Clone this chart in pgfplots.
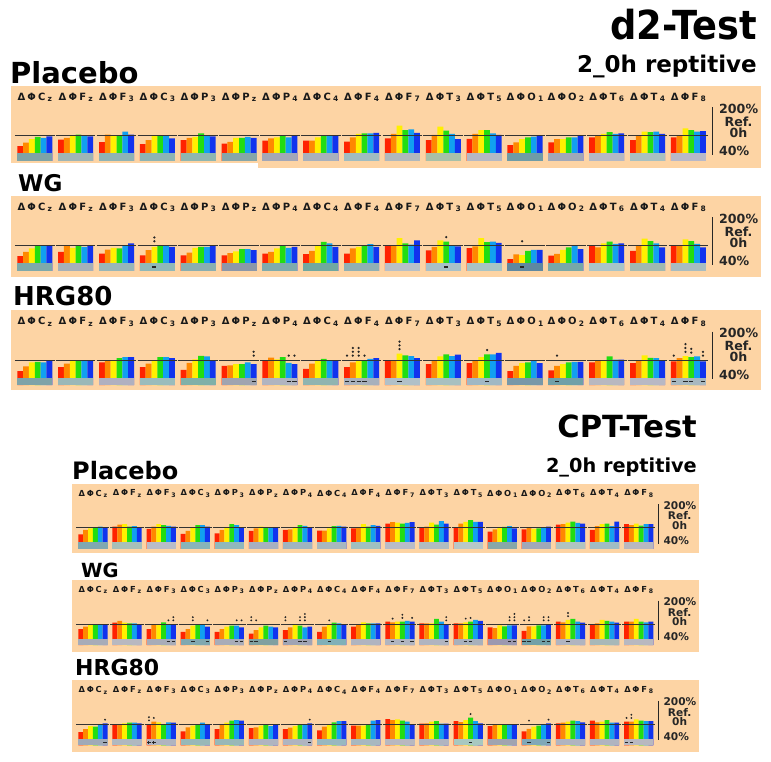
\documentclass[border=0pt]{standalone}
\usepackage{pgfplots}
\pgfplotsset{compat=1.18}
\usepackage{pgfplotstable}
\usepackage{graphicx}
\usepackage{fontspec}
\setmainfont{DejaVu Sans}

\definecolor{bgor}{HTML}{FDD4A4}
\definecolor{cR}{HTML}{FF2200}
\definecolor{cO}{HTML}{FF8800}
\definecolor{cY}{HTML}{FFF000}
\definecolor{cG}{HTML}{22DD11}
\definecolor{cC}{HTML}{11A0F0}
\definecolor{cB}{HTML}{1133EE}

\pgfplotsset{
  panel/.style={scale only axis, anchor=south west, xmin=0, xmax=118,
    ymin=14, ymax=200, axis line style={draw=none}, ticks=none,
    clip mode=individual},
  bars/.style={ybar, bar width=1, bar shift=0pt, draw=none, fill=#1},
}
\tikzset{
  elabA/.style={font=\bfseries\fontsize{10}{10}\selectfont, inner sep=0, text=black!90},
  elabB/.style={font=\bfseries\fontsize{8.3}{8.3}\selectfont, inner sep=0, text=black!90},
  rl/.style={font=\bfseries\fontsize{#1}{#1}\selectfont, inner sep=0, text=black!85},
  ttl/.style={font=\bfseries\fontsize{#1}{#1}\selectfont, inner sep=0},
}

% values in % of the 0h reference, one row per electrode, 6 repetitions
\pgfplotstableread{
e r o y g c b
Cz 64 76 88 96 93 98
Fz 87 93 100 104 102 98
F3 78 104 101 100 114 104
C3 71 85 99 101 101 91
P3 85 93 96 108 102 98
Pz 73 79 93 93 96 93
P4 83 91 94 99 94 99
C4 83 83 94 99 102 99
F4 80 94 106 108 108 110
F7 91 106 134 119 122 110
T3 85 103 131 117 106 88
T5 89 106 119 119 108 103
O1 68 77 88 94 97 100
O2 77 88 88 94 94 101
T6 94 100 106 112 106 108
T4 85 100 114 112 114 106
F8 94 99 125 119 114 116
}\dA
\pgfplotstableread{
e r o y g c b
Cz 64 79 91 99 100 99
Fz 79 100 93 100 96 100
F3 73 87 93 91 102 108
C3 67 85 96 100 100 96
P3 67 76 93 96 96 100
Pz 67 75 81 88 88 85
P4 73 79 91 102 93 96
C4 71 82 102 113 108 96
F4 73 91 96 100 105 96
F7 100 102 126 108 104 118
T3 84 96 118 114 102 98
T5 92 98 126 112 114 110
O1 54 70 68 82 86 86
O2 66 72 86 94 100 88
T6 100 94 108 114 106 108
T4 82 100 124 116 108 94
F8 102 102 122 116 106 94
}\dB
\pgfplotstableread{
e r o y g c b
Cz 62 78 92 94 92 96
Fz 76 88 98 100 98 100
F3 92 100 100 106 110 110
C3 76 88 100 110 110 106
P3 66 90 102 114 112 98
Pz 80 82 86 86 92 86
P4 100 108 102 110 90 86
C4 70 88 100 104 100 100
F4 76 92 98 100 104 106
F7 100 100 122 116 113 106
T3 86 100 112 119 113 118
T5 89 100 110 119 119 124
O1 62 80 89 92 96 89
O2 65 80 86 92 94 94
T6 92 98 100 112 101 101
T4 89 100 116 107 106 98
F8 95 106 113 110 112 95
}\dC
\pgfplotstableread{
e r o y g c b
Cz 73 91 97 100 104 101
Fz 104 113 115 104 107 101
F3 95 104 115 111 108 104
C3 75 87 100 111 111 104
P3 77 91 100 115 111 101
Pz 87 97 104 100 101 101
P4 91 93 101 111 108 101
C4 88 88 97 107 108 104
F4 97 101 115 104 111 108
F7 117 123 121 117 120 123
T3 101 104 121 113 127 117
T5 101 117 124 131 124 124
O1 84 93 100 103 107 97
O2 93 100 95 97 101 104
T6 113 115 121 125 120 117
T4 91 107 115 117 107 125
F8 115 111 117 109 115 115
}\dD
\pgfplotstableread{
e r o y g c b
Cz 79 89 99 100 100 100
Fz 106 113 106 103 103 100
F3 79 96 100 107 100 100
C3 68 79 93 99 99 89
P3 68 79 89 93 93 86
Pz 61 75 86 93 89 86
P4 75 86 96 93 86 89
C4 68 89 99 106 103 100
F4 89 99 107 103 103 103
F7 110 107 110 110 113 110
T3 103 103 103 121 110 96
T5 103 103 107 110 117 113
O1 86 83 94 90 94 94
O2 72 90 90 94 94 100
T6 110 107 117 121 110 106
T4 96 103 117 113 110 106
F8 110 110 121 110 107 110
}\dE
\pgfplotstableread{
e r o y g c b
Cz 68 80 93 91 100 104
Fz 101 101 104 107 107 104
F3 101 111 108 100 108 107
C3 71 88 95 97 107 100
P3 80 97 107 115 117 115
Pz 84 88 95 97 93 97
P4 80 87 93 97 100 104
C4 75 91 100 108 113 113
F4 95 95 95 101 115 117
F7 121 117 120 115 111 101
T3 103 104 111 113 103 103
T5 113 109 117 127 113 104
O1 93 100 100 100 100 97
O2 71 81 91 95 101 104
T6 104 107 111 115 113 108
T4 115 108 111 117 107 107
F8 111 111 120 115 113 113
}\dF

\newcommand\sixbars[1]{%
  \addplot[bars=cR] table[x expr=\coordindex*7+0.5, y=r] {#1};
  \addplot[bars=cO] table[x expr=\coordindex*7+1.5, y=o] {#1};
  \addplot[bars=cY] table[x expr=\coordindex*7+2.5, y=y] {#1};
  \addplot[bars=cG] table[x expr=\coordindex*7+3.5, y=g] {#1};
  \addplot[bars=cC] table[x expr=\coordindex*7+4.5, y=c] {#1};
  \addplot[bars=cB] table[x expr=\coordindex*7+5.5, y=b] {#1};
}
\newcommand\bands[2]{%
  \foreach \col [count=\i from 0] in {#2} {%
    \xglobal\definecolor{bd#1\i}{HTML}{\col}%
    \edef\tmp{\noexpand\fill[bd#1\i] (axis cs:{7*\i},14) rectangle (axis cs:{7*\i+6},40);}%
    \tmp}}
\newcommand\reflines[1]{\pgfplotsinvokeforeach{0,...,16}{%
  \draw[line width=#1, black!80] (axis cs:{7*##1-0.4},100) -- (axis cs:{7*##1+6.4},100);}}
\newcommand\el[2]{Δ\kern\elk Φ\kern\elk #1\kern\elk\raisebox{-0.3ex}{\fontsize{\elsub}{\elsub}\selectfont #2}}
\newcommand\elabels[2]{%
  \foreach \ea/\eb [count=\i from 0] in {C/z,F/z,F/3,C/3,P/3,P/z,P/4,C/4,F/4,F/7,T/3,T/5,O/1,O/2,T/6,T/4,F/8}{%
    \edef\tmp{\noexpand\node[#2] at (axis cs:{7*\i+3},#1) {\noexpand\el{\ea}{\eb}};}\tmp}}
\newcommand\sig[4]{%
  \pgfmathsetmacro\sx{7*#1+#2+0.5}%
  \pgfmathsetmacro\sy{max(#4,100)+15}%
  \foreach \k in {1,...,#3}{%
    \pgfmathsetmacro\yy{\sy+(\k-1)*13}%
    \edef\tmp{\noexpand\fill[black!85] (axis cs:\sx,\yy) circle[radius=\dotr];}\tmp}}
\newcommand\sigs[1]{\foreach \cc/\bb/\nn/\vv in {#1}{\sig{\cc}{\bb}{\nn}{\vv}}}
\newcommand\dsh[2]{%
  \pgfmathsetmacro\xa{7*#1+#2+0.15}\pgfmathsetmacro\xb{7*#1+#2+0.85}%
  \edef\tmp{\noexpand\draw[line width=\dshw, black!85] (axis cs:\xa,27) -- (axis cs:\xb,27);}\tmp}
\newcommand\dshs[1]{\foreach \cc/\bb in {#1}{\dsh{\cc}{\bb}}}
\newcommand\pls[2]{%
  \pgfmathsetmacro\xa{7*#1+#2+0.15}\pgfmathsetmacro\xb{7*#1+#2+0.85}\pgfmathsetmacro\xc{7*#1+#2+0.5}%
  \edef\tmp{\noexpand\draw[line width=\dshw, black!85] (axis cs:\xa,27) -- (axis cs:\xb,27) (axis cs:\xc,20) -- (axis cs:\xc,34);}\tmp}
% right hand scale: line x, y of 200% level, px per %, font size, text offset
\newcommand\rlab[5]{%
  \draw[line width=1.4pt, black!85] (#1,{-(#2+1)}) -- (#1,{-(#2+166*#3)});
  \pgfmathsetmacro\rx{#1+#5}\pgfmathsetmacro\rc{#1+#5+1.545*#4}%
  \node[rl={#4}, anchor=west] at (\rx,{-(#2+9*#3)}) {200\%};
  \node[rl={#4}] at (\rc,{-(#2+52*#3)}) {Ref.};
  \node[rl={#4}] at (\rc,{-(#2+90*#3)}) {0h};
  \node[rl={#4}, anchor=west] at (\rx,{-(#2+152*#3)}) {40\%};}

\begin{document}
\begin{tikzpicture}[x=1pt,y=1pt]
\useasboundingbox (0,0) rectangle (771,-762);

\fill[bgor] (11,-86) rectangle (761,-163);
\fill[bgor] (258,-163) rectangle (761,-168);
\fill[bgor] (11,-196) rectangle (761,-277);
\fill[bgor] (11,-310) rectangle (761,-390);
\fill[bgor] (72,-484) rectangle (699,-553);
\fill[bgor] (72,-580) rectangle (699,-652);
\fill[bgor] (72,-680) rectangle (699,-752);

\node[ttl=40, anchor=base east] at (757,-40) {\scalebox{0.92}[1]{d2-Test}};
\node[ttl=23, anchor=base east] at (757,-73) {2\_0h reptitive};
\node[ttl=29, anchor=base west] at (10,-84) {Placebo};
\node[ttl=23, anchor=base west] at (18,-192) {WG};
\node[ttl=26, anchor=base west] at (13,-305) {HRG80};
\node[ttl=30.5, anchor=base east] at (697,-437) {CPT-Test};
\node[ttl=19.3, anchor=base east] at (697,-472) {2\_0h reptitive};
\node[ttl=24, anchor=base west] at (72,-479) {Placebo};
\node[ttl=19.5, anchor=base west] at (81,-577) {WG};
\node[ttl=22, anchor=base west] at (75,-675) {HRG80};

% ---------------- d2-Test
\def\elk{2.2pt}\def\elsub{7.5}\def\dotr{1.25pt}\def\dshw{1.2pt}
\begin{axis}[panel, at={(17.3pt,-160.9pt)}, width=688.6pt, height=54.5pt]
\sixbars{\dA}
\bands{A}{7FA3A6,9FB5B5,8FB3B5,8DB4B4,8FB6B0,86A6A8,A3A7B7,A8B0BC,A0BCC0,B0B8BC,A8C0A8,B4B8C4,6F9CA6,A0A8B8,B4B8C4,A8C0C0,B8B8C8}
\reflines{1pt}
\elabels{231}{elabA}
\end{axis}
\rlab{712.7}{106.4}{0.2933}{12.6}{6.3}

\begin{axis}[panel, at={(17.3pt,-270.9pt)}, width=688.6pt, height=54.5pt]
\sixbars{\dB}
\bands{B}{7EA9AA,A6B0B8,98B6B8,8FB8B8,8AAEB0,8C97A8,7FABAC,70A8A0,90B0B4,B8C0C8,A8C0C8,A8C4C4,5F88A0,78A8A8,A8C4C8,A0B8B0,A8BCC0}
\reflines{1pt}
\elabels{231}{elabA}
\sigs{3/2/2/96, 10/3/1/114, 12/2/1/68}
\dshs{3/2, 10/3, 12/2}
\end{axis}
\rlab{712.7}{216.4}{0.2933}{12.6}{6.3}

\begin{axis}[panel, at={(17.3pt,-385.2pt)}, width=688.6pt, height=54.5pt]
\sixbars{\dC}
\bands{C}{7FA3A8,9AB8B8,B0B0C0,9ABCBC,80B0A8,A0A4B0,B0B4C0,90B4B0,A8B0BC,B0C0C8,A8C0C0,A0B8C4,7898A8,70A0A8,B8B8C0,B8B8C4,A8B8C0}
\reflines{1pt}
\elabels{231}{elabA}
\sigs{5/5/2/86, 6/4/1/90, 6/5/1/86, 8/0/1/76, 8/1/3/92, 8/2/3/98, 8/3/1/100, 9/2/3/122, 11/3/1/119, 13/1/1/80, 16/0/1/95, 16/2/3/113, 16/3/2/110, 16/5/2/95}
\dshs{5/5, 6/4, 6/5, 8/0, 8/1, 8/2, 8/3, 9/2, 11/3, 13/1, 16/0, 16/2, 16/3, 16/5}
\end{axis}
\rlab{712.7}{330.7}{0.2933}{12.6}{6.3}

% ---------------- CPT-Test
\def\elk{1.8pt}\def\elsub{6.2}\def\dotr{1.05pt}\def\dshw{1pt}
\begin{axis}[panel, at={(78.3pt,-548.8pt)}, width=575pt, height=45.6pt]
\sixbars{\dD}
\bands{D}{80A8B0,A8C0B8,B8BCC8,88B4B8,90B8BC,A8B0C0,A0B4C0,A8B8C0,A0C0C0,B8BCC8,B0BCC0,B8C8C8,88A8A8,A0A8B8,B0C4C0,A0BCC4,B8B8C0}
\reflines{0.9pt}
\elabels{239}{elabB}
\end{axis}
\rlab{658.3}{503.2}{0.245}{10.6}{5}

\begin{axis}[panel, at={(78.3pt,-645.1pt)}, width=575pt, height=45.6pt]
\sixbars{\dE}
\bands{E}{A8ACB8,B8B8C0,A8ACB8,80A8B0,A8ACB8,80A0A0,A0A4B4,80B0B8,B0B4C0,B0B4C0,B0B4C0,A8B0BC,9C98B0,70A0A8,B0B4C0,A8B8B8,B8B8C0}
\reflines{0.9pt}
\elabels{239}{elabB}
\sigs{2/4/1/100, 2/5/2/100, 3/2/2/93, 3/5/1/89, 4/4/1/93, 4/5/1/86, 5/0/2/61, 5/1/1/75, 6/0/2/75, 6/3/2/93, 6/4/3/86, 7/2/1/99, 9/1/1/107, 9/3/2/110, 9/5/1/110, 10/5/2/96, 11/2/1/107, 11/3/1/110, 12/4/2/94, 12/5/3/94, 13/0/1/72, 13/1/2/90, 13/4/2/94, 13/5/2/100, 14/2/2/117}
\dshs{2/4, 2/5, 3/2, 3/5, 4/4, 4/5, 5/0, 5/1, 6/0, 6/3, 6/4, 7/2, 9/1, 9/3, 9/5, 10/5, 11/2, 11/3, 12/4, 12/5, 13/0, 13/1, 13/4, 13/5, 14/2}
\end{axis}
\rlab{658.3}{599.5}{0.245}{10.6}{5}

\begin{axis}[panel, at={(78.3pt,-745.4pt)}, width=575pt, height=45.6pt]
\sixbars{\dF}
\bands{F}{A0AAB8,B0B8C0,B0B4C0,98B8B8,98B8B8,B0B4C0,B0B4C0,98B8C0,A8B8C0,B8B8C0,B0B4C0,A8C8C0,A0A4B0,80A8B8,B0B4C0,B0B4C0,B8B8C0}
\reflines{0.9pt}
\elabels{239}{elabB}
\sigs{0/5/1/104, 2/0/2/101, 2/1/1/111, 6/5/1/104, 11/3/1/127, 13/1/1/81, 13/5/1/104, 16/0/1/111, 16/1/2/111}
\dshs{0/5, 6/5, 11/3, 13/1, 13/5, 16/0, 16/1}
\pls{2}{0}\pls{2}{1}
\end{axis}
\rlab{658.3}{699.8}{0.245}{10.6}{5}
\end{tikzpicture}
\end{document}
